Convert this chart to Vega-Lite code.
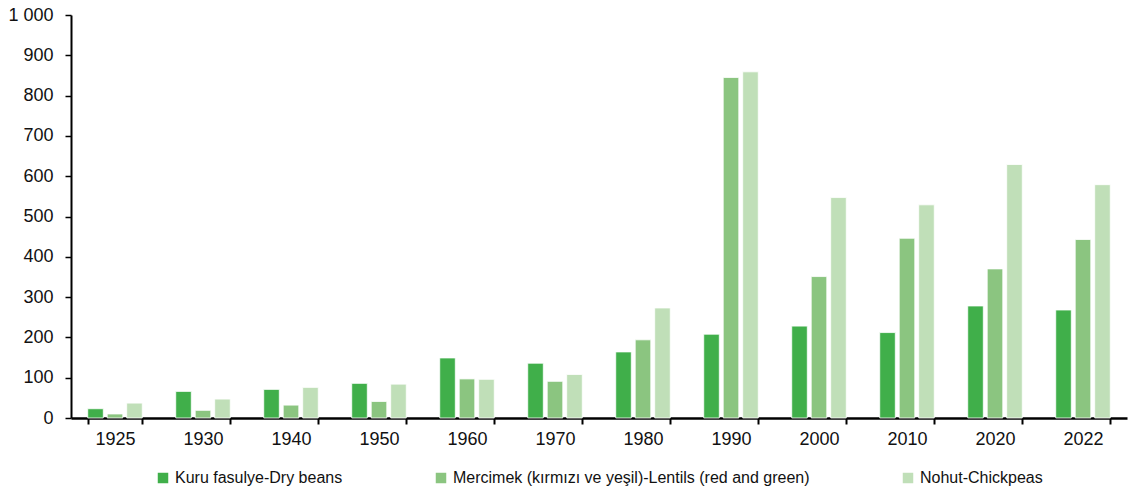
{
  "$schema": "https://vega.github.io/schema/vega-lite/v6.json",
  "width": 1139,
  "height": 493,
  "autosize": {"type": "fit", "contains": "padding"},
  "padding": {"left": 7, "right": 12, "top": 6, "bottom": 7},
  "background": "white",
  "config": {
    "view": {"stroke": null},
    "font": "Liberation Sans",
    "axis": {"labelFont": "Liberation Sans", "labelColor": "#111111", "grid": false},
    "legend": {"layout": {"bottom": {"anchor": "middle"}}}
  },
  "data": {
    "values": [
      {"year": "1925", "series": "Kuru fasulye-Dry beans", "value": 23},
      {"year": "1925", "series": "Mercimek (kırmızı ve yeşil)-Lentils (red and green)", "value": 10},
      {"year": "1925", "series": "Nohut-Chickpeas", "value": 37},
      {"year": "1930", "series": "Kuru fasulye-Dry beans", "value": 66},
      {"year": "1930", "series": "Mercimek (kırmızı ve yeşil)-Lentils (red and green)", "value": 19},
      {"year": "1930", "series": "Nohut-Chickpeas", "value": 47},
      {"year": "1940", "series": "Kuru fasulye-Dry beans", "value": 71},
      {"year": "1940", "series": "Mercimek (kırmızı ve yeşil)-Lentils (red and green)", "value": 32},
      {"year": "1940", "series": "Nohut-Chickpeas", "value": 76},
      {"year": "1950", "series": "Kuru fasulye-Dry beans", "value": 86},
      {"year": "1950", "series": "Mercimek (kırmızı ve yeşil)-Lentils (red and green)", "value": 41},
      {"year": "1950", "series": "Nohut-Chickpeas", "value": 84},
      {"year": "1960", "series": "Kuru fasulye-Dry beans", "value": 149},
      {"year": "1960", "series": "Mercimek (kırmızı ve yeşil)-Lentils (red and green)", "value": 97},
      {"year": "1960", "series": "Nohut-Chickpeas", "value": 96},
      {"year": "1970", "series": "Kuru fasulye-Dry beans", "value": 136},
      {"year": "1970", "series": "Mercimek (kırmızı ve yeşil)-Lentils (red and green)", "value": 91},
      {"year": "1970", "series": "Nohut-Chickpeas", "value": 108},
      {"year": "1980", "series": "Kuru fasulye-Dry beans", "value": 164},
      {"year": "1980", "series": "Mercimek (kırmızı ve yeşil)-Lentils (red and green)", "value": 194},
      {"year": "1980", "series": "Nohut-Chickpeas", "value": 273},
      {"year": "1990", "series": "Kuru fasulye-Dry beans", "value": 208},
      {"year": "1990", "series": "Mercimek (kırmızı ve yeşil)-Lentils (red and green)", "value": 845},
      {"year": "1990", "series": "Nohut-Chickpeas", "value": 859},
      {"year": "2000", "series": "Kuru fasulye-Dry beans", "value": 228},
      {"year": "2000", "series": "Mercimek (kırmızı ve yeşil)-Lentils (red and green)", "value": 351},
      {"year": "2000", "series": "Nohut-Chickpeas", "value": 547},
      {"year": "2010", "series": "Kuru fasulye-Dry beans", "value": 212},
      {"year": "2010", "series": "Mercimek (kırmızı ve yeşil)-Lentils (red and green)", "value": 446},
      {"year": "2010", "series": "Nohut-Chickpeas", "value": 529},
      {"year": "2020", "series": "Kuru fasulye-Dry beans", "value": 278},
      {"year": "2020", "series": "Mercimek (kırmızı ve yeşil)-Lentils (red and green)", "value": 370},
      {"year": "2020", "series": "Nohut-Chickpeas", "value": 629},
      {"year": "2022", "series": "Kuru fasulye-Dry beans", "value": 268},
      {"year": "2022", "series": "Mercimek (kırmızı ve yeşil)-Lentils (red and green)", "value": 443},
      {"year": "2022", "series": "Nohut-Chickpeas", "value": 579}
    ]
  },
  "mark": {"type": "bar", "stroke": "white", "strokeWidth": 0.8},
  "encoding": {
    "x": {
      "field": "year",
      "type": "nominal",
      "sort": null,
      "title": null,
      "scale": {"paddingInner": 0.38, "paddingOuter": 0.19},
      "axis": {
        "labelAngle": 0,
        "labelFontSize": 18,
        "domainColor": "black",
        "domainWidth": 2.5,
        "tickColor": "black",
        "tickWidth": 2,
        "tickSize": 6,
        "tickBand": "extent",
        "labelPadding": 6
      }
    },
    "xOffset": {
      "field": "series",
      "type": "nominal",
      "sort": ["Kuru fasulye-Dry beans", "Mercimek (kırmızı ve yeşil)-Lentils (red and green)", "Nohut-Chickpeas"],
      "scale": {"paddingInner": 0.2, "paddingOuter": 0}
    },
    "y": {
      "field": "value",
      "type": "quantitative",
      "title": null,
      "scale": {"domain": [0, 1000]},
      "axis": {
        "values": [0, 100, 200, 300, 400, 500, 600, 700, 800, 900, 1000],
        "labelExpr": "replace(format(datum.value, ',d'), ',', ' ')",
        "labelFontSize": 18,
        "domainColor": "black",
        "domainWidth": 2,
        "tickColor": "black",
        "tickWidth": 1.5,
        "tickSize": 6,
        "labelPadding": 12
      }
    },
    "color": {
      "field": "series",
      "type": "nominal",
      "sort": ["Kuru fasulye-Dry beans", "Mercimek (kırmızı ve yeşil)-Lentils (red and green)", "Nohut-Chickpeas"],
      "scale": {
        "domain": ["Kuru fasulye-Dry beans", "Mercimek (kırmızı ve yeşil)-Lentils (red and green)", "Nohut-Chickpeas"],
        "range": ["#40af4a", "#8bc580", "#c0dfb8"]
      },
      "legend": {
        "title": null,
        "orient": "bottom",
        "direction": "horizontal",
        "symbolType": "square",
        "symbolSize": 110,
        "symbolStrokeWidth": 0,
        "labelFontSize": 16,
        "labelColor": "#111111",
        "labelLimit": 600,
        "labelOffset": 4,
        "columnPadding": 90,
        "offset": 22
      }
    }
  }
}
